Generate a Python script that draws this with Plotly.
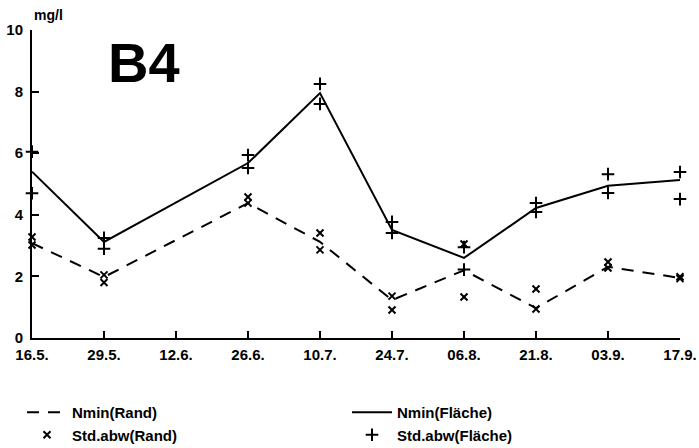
import plotly.graph_objects as go

# Sampling dates (12.6. has no measurement)
dates = ["16.5.", "29.5.", "12.6.", "26.6.", "10.7.", "24.7.", "06.8.", "21.8.", "03.9.", "17.9."]

# Mean Nmin (mg/l) at the field edge and on the field
nmin_rand = [3.08, 1.98, None, 4.38, 3.12, 1.23, 2.20, 0.97, 2.31, 1.95]
nmin_flaeche = [5.40, 3.12, None, 5.68, 7.95, 3.51, 2.60, 4.22, 4.94, 5.13]

# Mean +/- standard deviation
rand_std_hi = [3.28, 2.05, None, 4.58, 3.41, 1.36, 3.05, 1.59, 2.47, 1.99]
rand_std_lo = [3.02, 1.80, None, 4.38, 2.86, 0.91, 1.33, 0.94, 2.27, 1.93]
flaeche_std_hi = [6.05, 3.25, None, 5.94, 8.25, 3.77, 2.95, 4.38, 5.32, 5.39]
flaeche_std_lo = [4.70, 2.90, None, 5.52, 7.60, 3.41, 2.22, 4.09, 4.71, 4.51]

y_ticks = [0, 2, 4, 6, 8, 10]

FONT = "Liberation Sans"
INK = "black"

fig = go.Figure()

fig.add_trace(go.Scatter(
    x=dates, y=nmin_rand, name="Nmin(Rand)", mode="lines",
    line=dict(color=INK, width=2, dash="12px,9px"),
    connectgaps=True, cliponaxis=False,
    legend="legend", legendgroup="a",
))
fig.add_trace(go.Scatter(
    x=dates + dates, y=rand_std_hi + rand_std_lo, name="Std.abw(Rand)",
    mode="markers",
    marker=dict(symbol="x-thin", size=7, color=INK, line=dict(color=INK, width=2)),
    cliponaxis=False,
    legend="legend", legendgroup="b",
))
fig.add_trace(go.Scatter(
    x=dates, y=nmin_flaeche, name="Nmin(Fläche)", mode="lines",
    line=dict(color=INK, width=2),
    connectgaps=True, cliponaxis=False,
    legend="legend2", legendgroup="c",
))
fig.add_trace(go.Scatter(
    x=dates + dates, y=flaeche_std_hi + flaeche_std_lo, name="Std.abw(Fläche)",
    mode="markers",
    marker=dict(symbol="cross-thin", size=9, color=INK, line=dict(color=INK, width=2)),
    cliponaxis=False,
    legend="legend2", legendgroup="d",
))

legend_common = dict(
    orientation="v", xanchor="left", yanchor="top",
    xref="container", yref="container", y=1 - 396 / 448,
    font=dict(family=FONT, size=15, weight="bold"),
    itemwidth=40, tracegroupgap=0, traceorder="grouped",
    bgcolor="rgba(0,0,0,0)",
)

fig.update_layout(
    width=699, height=448,
    margin=dict(l=32, r=19, t=30, b=110, autoexpand=False),
    paper_bgcolor="white", plot_bgcolor="white",
    font=dict(family=FONT, color=INK, size=14, weight="bold"),
    showlegend=True,
    legend=dict(legend_common, x=22 / 699),
    legend2=dict(legend_common, x=347 / 699),
    xaxis=dict(
        type="category", categoryorder="array", categoryarray=dates,
        range=[0, 9], showline=True, linecolor=INK, linewidth=2,
        ticks="inside", ticklen=7, tickwidth=2, tickcolor=INK,
        showgrid=False, zeroline=False, ticklabelstandoff=2,
        tickfont=dict(family=FONT, size=15, weight="bold"),
    ),
    yaxis=dict(
        range=[0, 10], tickvals=y_ticks, showline=True, linecolor=INK, linewidth=2,
        ticks="inside", ticklen=7, tickwidth=2, tickcolor=INK,
        showgrid=False, zeroline=False, ticklabelstandoff=4,
        tickfont=dict(family=FONT, size=15, weight="bold"),
    ),
    annotations=[
        dict(text="mg/l", xref="paper", yref="paper", x=0.0, y=1.05,
             xanchor="left", yanchor="middle", showarrow=False,
             font=dict(family=FONT, size=14, weight="bold")),
        dict(text="B4", xref="paper", yref="paper", x=0.173, y=0.893,
             xanchor="center", yanchor="middle", showarrow=False,
             font=dict(family=FONT, size=56, weight="bold")),
    ],
)

fig.write_html("out.html")
